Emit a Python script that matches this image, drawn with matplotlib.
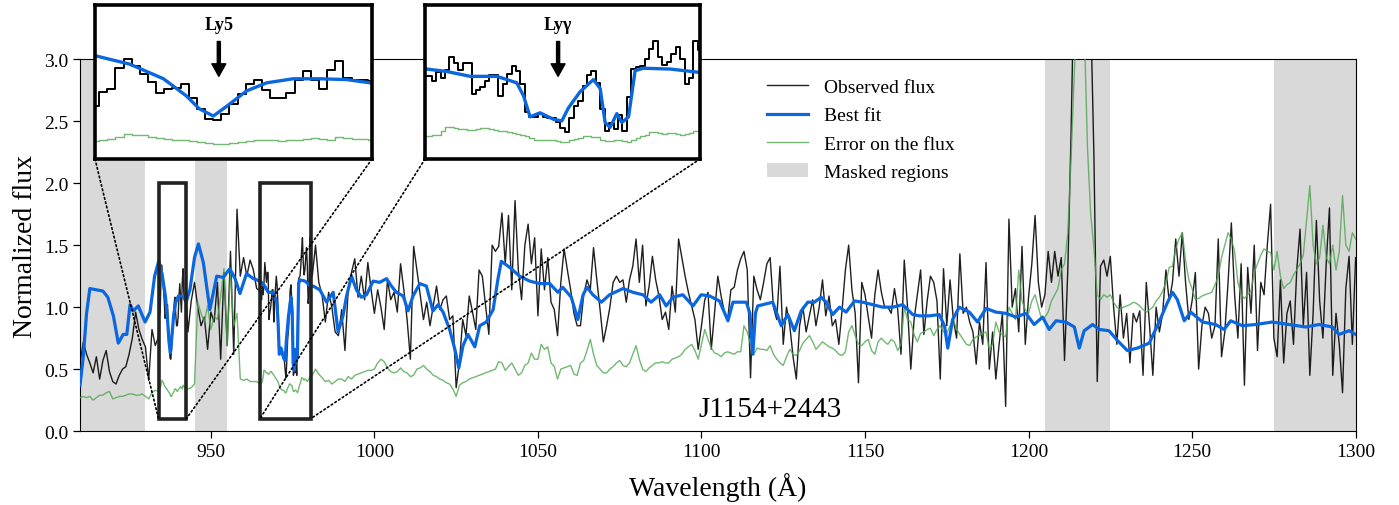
import numpy as np
import matplotlib
matplotlib.use("Agg")
import matplotlib.pyplot as plt
from matplotlib.patches import Rectangle, ConnectionPatch

plt.rcParams['font.family'] = ['Liberation Serif', 'DejaVu Serif']

# wavelength sampling (finer inside the two zoomed boxes)
wave = np.concatenate([
    np.arange(910, 934, 1.0),
    np.arange(934, 942.51, 0.25),
    np.arange(943, 965, 1.0),
    np.arange(965, 980.51, 0.25),
    np.arange(981, 1301, 1.0),
])

# observed flux
obs_910_933 = [0.55, 0.72, 0.62, 0.55, 0.47, 0.60, 0.42, 0.57, 0.65, 0.48,
               0.40, 0.38, 0.45, 0.50, 0.52, 0.62, 0.75, 0.96, 0.82, 0.74,
               0.68, 0.41, 0.82, 0.69]
obs_ly5 = [0.76, 0.93, 0.96, 1.22, 1.34, 1.25, 1.15, 1.05, 0.91, 0.96,
           0.98, 1.02, 0.85, 0.72, 0.59, 0.58, 0.66, 0.78, 0.90, 1.02,
           1.08, 0.95, 0.85, 0.85, 0.92, 1.08, 1.19, 1.08, 0.96, 1.20,
           1.31, 1.10, 1.08, 1.08, 1.06]
obs_943_964 = [0.80, 1.05, 1.20, 1.00, 0.85, 0.92, 0.66, 0.96, 0.88, 1.20,
               0.58, 1.28, 0.69, 1.45, 0.62, 1.79, 1.25, 1.40, 1.25, 1.38,
               1.30, 1.15]
obs_lyg = [1.13, 1.13, 1.06, 1.17, 1.10, 1.20, 1.36, 1.28, 1.20, 1.28,
           1.28, 0.90, 0.95, 0.99, 1.06, 1.14, 1.14, 0.88, 1.03, 1.15,
           1.25, 1.18, 1.02, 0.68, 0.62, 0.62, 0.66, 0.62, 0.61, 0.60,
           0.56, 0.48, 0.43, 0.60, 0.75, 0.82, 1.00, 1.14, 1.18, 1.04,
           0.72, 0.45, 0.55, 0.47, 0.64, 0.45, 0.86, 1.21, 1.24, 1.25,
           1.33, 1.46, 1.56, 1.36, 1.26, 1.30, 1.40, 1.48, 1.33, 1.03,
           1.10, 1.56, 1.45]
obs_981_1300 = [
    1.25, 1.50, 1.20, 1.10, 0.88, 1.12, 1.00, 0.80, 0.77, 0.98,
    0.65, 1.15, 1.28, 1.39, 1.08, 1.25, 1.06, 1.36, 1.14, 0.95,
    1.14, 1.00, 0.82, 1.22, 1.06, 1.12, 0.96, 1.35, 1.14, 0.90,
    0.58, 1.49, 1.30, 1.10, 0.90, 1.04, 0.85, 1.01, 1.17, 0.98,
    1.06, 1.09, 0.90, 0.93, 0.35, 0.55, 0.90, 0.77, 1.09, 0.96,
    0.82, 1.30, 1.25, 1.01, 0.78, 1.50, 1.45, 1.49, 1.76, 1.35,
    1.74, 1.14, 1.86, 1.30, 1.06, 1.50, 1.67, 1.35, 1.56, 0.93,
    1.47, 1.14, 1.40, 1.04, 0.98, 0.77, 1.20, 1.47, 1.30, 1.14,
    0.95, 0.85, 0.85, 1.10, 1.22, 1.14, 1.48, 1.22, 0.98, 0.72,
    0.85, 1.00, 1.20, 1.25, 1.20, 1.22, 1.04, 1.22, 1.33, 1.55,
    1.20, 1.50, 1.01, 1.17, 1.41, 1.22, 1.09, 0.90, 0.96, 0.82,
    1.17, 0.96, 1.55, 1.40, 1.25, 1.12, 1.01, 0.90, 0.66, 0.85,
    1.06, 1.12, 0.66, 0.96, 1.25, 1.09, 0.96, 0.90, 1.14, 1.16,
    1.30, 1.39, 1.45, 1.30, 0.43, 1.25, 1.14, 1.06, 1.20, 1.35,
    1.40, 1.00, 0.90, 1.33, 0.70, 1.00, 0.85, 0.60, 0.42, 0.85,
    1.00, 0.80, 0.93, 1.06, 0.85, 1.00, 1.22, 0.93, 1.09, 0.85,
    0.90, 0.70, 0.98, 1.30, 1.50, 1.14, 0.95, 0.39, 1.20, 1.10,
    0.92, 0.75, 1.10, 1.30, 1.12, 1.00, 1.00, 0.95, 1.15, 0.98,
    0.62, 1.38, 1.00, 0.50, 0.90, 1.10, 1.30, 0.78, 1.05, 1.25,
    1.20, 1.05, 0.42, 1.31, 0.85, 1.22, 0.90, 0.75, 1.43, 0.95,
    1.00, 0.88, 0.80, 0.54, 0.88, 0.70, 1.36, 0.50, 0.80, 0.42,
    0.70, 0.95, 0.20, 1.71, 1.00, 1.15, 0.80, 1.49, 0.70, 1.08,
    1.35, 1.74, 1.20, 1.00, 1.10, 1.45, 1.20, 1.45, 1.25, 1.40,
    0.57, 1.30, 2.40, 3.80, 4.20, 4.20, 4.00, 3.80, 3.40, 2.20,
    0.40, 1.33, 1.38, 1.25, 1.41, 1.00, 0.70, 1.10, 0.75, 0.95,
    0.55, 0.95, 0.88, 0.97, 0.45, 1.20, 0.85, 0.45, 1.00, 0.80,
    0.95, 1.30, 1.05, 1.20, 1.55, 1.25, 1.60, 1.20, 0.90, 1.05,
    1.28, 0.50, 0.85, 1.00, 0.95, 0.75, 0.85, 1.55, 0.60, 0.80,
    1.20, 1.68, 1.10, 0.75, 1.35, 0.37, 1.32, 0.95, 1.50, 0.65,
    1.20, 1.10, 1.50, 1.83, 0.75, 0.60, 1.22, 0.55, 0.95, 1.05,
    0.70, 1.30, 1.63, 0.85, 1.28, 0.45, 0.95, 1.70, 1.05, 0.75,
    1.35, 1.80, 0.45, 0.95, 0.70, 0.31, 1.15, 1.41, 0.70, 1.40,
]

# error on the flux
err_910_933 = [0.27, 0.28, 0.27, 0.28, 0.25, 0.27, 0.29, 0.29, 0.31, 0.32,
               0.26, 0.27, 0.28, 0.28, 0.29, 0.30, 0.30, 0.29, 0.29, 0.30,
               0.28, 0.26, 0.31, 0.33]
err_ly5 = [0.32, 0.33, 0.35, 0.37, 0.41, 0.40, 0.39, 0.37, 0.36, 0.35,
           0.34, 0.33, 0.32, 0.31, 0.30, 0.28, 0.28, 0.30, 0.31, 0.32,
           0.34, 0.34, 0.33, 0.32, 0.33, 0.34, 0.35, 0.36, 0.35, 0.34,
           0.37, 0.36, 0.35, 0.35, 0.34]
err_943_964 = [0.34, 0.35, 0.38, 1.04, 0.95, 0.88, 1.01, 0.82, 0.93, 0.90,
               1.09, 1.31, 0.69, 1.28, 0.85, 0.95, 0.42, 0.41, 0.42, 0.40,
               0.40, 0.40]
err_lyg = [0.38, 0.38, 0.39, 0.40, 0.44, 0.49, 0.49, 0.48, 0.47, 0.47,
           0.46, 0.46, 0.47, 0.48, 0.48, 0.47, 0.46, 0.45, 0.44, 0.43,
           0.42, 0.41, 0.40, 0.38, 0.36, 0.34, 0.34, 0.33, 0.33, 0.33,
           0.32, 0.31, 0.31, 0.33, 0.35, 0.36, 0.38, 0.38, 0.37, 0.37,
           0.34, 0.32, 0.32, 0.33, 0.33, 0.32, 0.31, 0.33, 0.36, 0.38,
           0.40, 0.43, 0.43, 0.42, 0.41, 0.42, 0.42, 0.41, 0.40, 0.41,
           0.42, 0.44, 0.45]
err_981_1300 = [
    0.45, 0.50, 0.46, 0.43, 0.40, 0.41, 0.38, 0.40, 0.42, 0.42,
    0.40, 0.44, 0.42, 0.45, 0.46, 0.47, 0.48, 0.49, 0.49, 0.50,
    0.55, 0.58, 0.56, 0.51, 0.48, 0.47, 0.48, 0.51, 0.48, 0.47,
    0.44, 0.45, 0.50, 0.51, 0.53, 0.50, 0.48, 0.45, 0.44, 0.42,
    0.41, 0.39, 0.38, 0.34, 0.28, 0.37, 0.39, 0.40, 0.42, 0.43,
    0.44, 0.45, 0.46, 0.47, 0.48, 0.49, 0.50, 0.56, 0.55, 0.49,
    0.52, 0.55, 0.50, 0.45, 0.47, 0.53, 0.55, 0.63, 0.58, 0.58,
    0.70, 0.66, 0.68, 0.55, 0.52, 0.42, 0.50, 0.51, 0.52, 0.53,
    0.46, 0.45, 0.55, 0.57, 0.65, 0.74, 0.62, 0.53, 0.50, 0.47,
    0.47, 0.50, 0.52, 0.55, 0.57, 0.53, 0.52, 0.55, 0.62, 0.69,
    0.58, 0.50, 0.48, 0.51, 0.53, 0.55, 0.55, 0.56, 0.55, 0.55,
    0.58, 0.59, 0.60, 0.62, 0.66, 0.68, 0.70, 0.65, 0.58, 0.70,
    0.82, 0.74, 0.67, 0.63, 0.62, 0.60, 0.63, 0.64, 0.63, 0.62,
    0.64, 0.64, 0.85, 0.80, 0.70, 0.62, 0.67, 0.66, 0.66, 0.65,
    0.69, 0.62, 0.58, 0.55, 0.53, 0.60, 0.66, 0.62, 0.61, 0.65,
    0.71, 0.74, 0.77, 0.72, 0.66, 0.69, 0.72, 0.70, 0.68, 0.67,
    0.65, 0.62, 0.61, 0.64, 0.80, 0.85, 0.77, 0.70, 0.69, 0.72,
    0.74, 0.65, 0.62, 0.72, 0.75, 0.72, 0.70, 0.74, 0.72, 0.65,
    0.70, 1.00, 0.90, 0.88, 0.78, 0.72, 0.79, 0.80, 0.82, 0.83,
    0.77, 0.82, 0.85, 0.80, 0.79, 0.85, 0.90, 0.82, 0.78, 0.74,
    0.70, 0.69, 0.74, 0.76, 0.77, 0.79, 0.80, 0.66, 0.70, 0.88,
    0.80, 0.78, 0.76, 1.00, 0.95, 0.90, 1.30, 1.05, 0.98, 0.95,
    1.05, 1.10, 1.00, 0.90, 0.92, 0.96, 1.05, 1.10, 1.15, 1.30,
    1.35, 1.60, 2.20, 2.90, 3.50, 3.70, 3.30, 2.30, 1.75, 1.47,
    1.10, 1.06, 1.10, 1.08, 1.10, 1.04, 1.00, 0.98, 1.00, 1.01,
    1.02, 1.04, 1.03, 1.01, 0.98, 0.96, 0.98, 1.00, 1.05, 1.08,
    1.13, 1.20, 1.32, 1.33, 1.47, 1.55, 1.60, 1.38, 1.22, 1.15,
    1.06, 1.07, 1.09, 1.10, 1.11, 1.12, 1.18, 1.25, 1.40, 1.50,
    1.60, 1.55, 1.45, 1.20, 1.10, 1.07, 1.10, 1.13, 1.28, 1.35,
    1.42, 1.47, 1.45, 1.44, 1.30, 1.45, 1.25, 1.15, 1.18, 1.20,
    1.26, 1.30, 1.35, 1.42, 1.70, 1.98, 1.50, 1.35, 1.40, 1.66,
    1.40, 1.35, 1.50, 1.30, 1.45, 1.90, 1.50, 1.45, 1.60, 1.55,
]

observed = np.array(obs_910_933 + obs_ly5 + obs_943_964 + obs_lyg + obs_981_1300)
error = np.array(err_910_933 + err_ly5 + err_943_964 + err_lyg + err_981_1300)

# best fit model
fit_wave = [910, 911, 912, 913, 915, 917, 918.5, 920.2, 921.7, 923.2, 924.3,
            925.3, 926.3, 927.8, 929.9, 931.4, 932.8, 934.05, 935.07, 936.1,
            936.8, 937.2, 937.63, 938.04, 938.65, 939.27, 940.08, 940.9,
            941.72, 942.44, 943.6, 945, 946.2, 947.7, 949.7, 951.8, 953.8,
            955.8, 957.4, 958.9, 960.9, 963, 965.09, 966.22, 967.54, 969.04,
            970.17, 970.55, 970.92, 971.48, 972.24, 972.71, 973.08, 973.74,
            974.49, 974.87, 975.15, 975.43, 975.81, 976.09, 976.47, 976.84,
            977.31, 978.82, 980.41, 981.3, 983.3, 985.4, 987.4, 988.9, 990.4,
            991.5, 993, 994.5, 996, 997.6, 999.6, 1001.6, 1003.7, 1005.2,
            1006.7, 1008.8, 1010.3, 1011.8, 1013.9, 1015.9, 1017.9, 1019.5,
            1021, 1023, 1024.6, 1025.8, 1027.1, 1028.6, 1030.7, 1032.2,
            1034.2, 1036.3, 1037.8, 1038.8, 1041.4, 1044.4, 1047.5, 1050.5,
            1053.6, 1056.1, 1057.6, 1060.2, 1062.2, 1063.8, 1065, 1066.8,
            1069.4, 1071.9, 1076, 1079, 1082.1, 1084.6, 1087.2, 1089.2,
            1091.3, 1094.3, 1097.4, 1099.9, 1102.5, 1105.5, 1108.1, 1109.6,
            1113.7, 1114.8, 1115.7, 1116.5, 1117.2, 1121.8, 1124.4, 1126.4,
            1128.4, 1130.5, 1132.5, 1134.5, 1136.6, 1138.1, 1140.1, 1142.2,
            1144.2, 1146.8, 1149.3, 1152.4, 1155.4, 1158.5, 1161.5, 1164.6,
            1166.6, 1169.7, 1172.7, 1174.3, 1175.3, 1176.8, 1178.8, 1181.9,
            1184.4, 1187, 1190, 1193.1, 1196.1, 1199.2, 1201.7, 1204.3,
            1206.3, 1208.4, 1211.4, 1214, 1215.5, 1217, 1219.6, 1221.6,
            1224.6, 1227.2, 1230.2, 1233.3, 1236.9, 1239.9, 1242.5, 1244,
            1245.5, 1247.6, 1249.6, 1253.2, 1257.2, 1259.8, 1261.8, 1265.4,
            1269.4, 1274.5, 1279.6, 1284.7, 1288.8, 1292.9, 1294.9, 1298,
            1300]
fit_flux = [0.37, 0.60, 0.95, 1.15, 1.14, 1.13, 1.08, 0.93, 0.71, 0.78, 0.78,
            1.02, 0.97, 1.01, 0.88, 0.96, 1.25, 1.37, 1.27, 1.09,
            0.88, 0.72, 0.63, 0.75, 0.94, 1.04, 1.09, 1.09,
            1.08, 1.04, 1.14, 1.40, 1.51, 1.36, 0.98, 1.25, 1.24,
            1.31, 1.23, 1.11, 1.27, 1.23, 1.21, 1.18, 1.12, 1.12,
            1.04, 0.88, 0.62, 0.67, 0.59, 0.57, 0.73, 0.93,
            1.08, 0.97, 0.55, 0.49, 0.66, 0.55, 0.62, 1.19,
            1.22, 1.21, 1.17, 1.17, 1.14, 1.04, 1.12, 0.80, 0.93,
            1.09, 1.25, 1.14, 1.08, 1.10, 1.21, 1.20, 1.23, 1.17,
            1.12, 1.09, 0.97, 1.09, 1.19, 1.17, 0.97, 1.02,
            0.96, 0.82, 0.66, 0.51, 0.69, 0.78, 0.68, 0.85,
            0.88, 0.98, 1.23, 1.37, 1.32, 1.25, 1.21, 1.19,
            1.19, 1.12, 1.16, 1.08, 0.90, 1.10, 1.16, 1.10,
            1.04, 1.10, 1.15, 1.12, 1.10, 1.04, 1.10, 1.01,
            1.08, 1.10, 1.01, 1.10, 1.09, 1.05, 0.89, 1.04,
            1.04, 0.95, 0.62, 0.95, 1.01, 1.04, 0.85, 0.94,
            0.81, 0.97, 1.04, 1.04, 1.08, 1.04, 0.94, 1.00,
            0.96, 1.05, 1.04, 1.02, 1.00, 1.00, 1.02, 0.94,
            0.93, 0.93, 0.94, 0.85, 0.67, 0.90, 1.00, 0.96,
            0.88, 0.99, 0.96, 0.95, 0.92, 0.95, 0.86, 0.92,
            0.82, 0.89, 0.88, 0.84, 0.67, 0.81, 0.86, 0.82,
            0.81, 0.73, 0.65, 0.67, 0.71, 0.88, 1.04, 1.12,
            1.06, 0.89, 0.96, 0.88, 0.86, 0.82, 0.89, 0.85,
            0.86, 0.88, 0.86, 0.84, 0.86, 0.84, 0.78, 0.81,
            0.78]

masked = [(910, 930), (945, 955), (1205, 1225), (1275, 1300)]
zoom_boxes = [(934, 942.5), (965, 980.5)]
lines_id = [("Ly5", 937.8), ("Lyγ", 972.5)]

black = "k"
blue = "#0b67e0"
green = "#4ea64e"

fig = plt.figure(figsize=(13.99, 5.06), dpi=100)
ax = fig.add_axes([0.0572, 0.146, 0.9118, 0.735])

for i, (a, b) in enumerate(masked):
    ax.axvspan(a, b, color="#d9d9d9", lw=0, zorder=0,
               label="Masked regions" if i == 0 else None)

ax.plot(wave, observed, color=black, lw=1.0, alpha=0.88, label="Observed flux", zorder=2)
ax.plot(fit_wave, fit_flux, color=blue, lw=2.3, label="Best fit", zorder=4)
ax.plot(wave, error, color=green, lw=1.0, alpha=0.8, label="Error on the flux", zorder=3)

ax.set_xlim(910, 1300)
ax.set_ylim(0, 3.0)
ax.set_xticks([950, 1000, 1050, 1100, 1150, 1200, 1250, 1300])
ax.set_yticks([0.0, 0.5, 1.0, 1.5, 2.0, 2.5, 3.0])
ax.set_yticklabels(["0.0", "0.5", "1.0", "1.5", "2.0", "2.5", "3.0"])
ax.tick_params(direction="out", labelsize=14, length=5, width=0.9)
ax.set_xlabel("Wavelength (Å)", fontsize=20, labelpad=9)
ax.set_ylabel("Normalized flux", fontsize=20, labelpad=4)

ax.text(1121, 0.18, "J1154+2443", fontsize=21, ha="center", va="center")

h, l = ax.get_legend_handles_labels()
order = [l.index(n) for n in ["Observed flux", "Best fit", "Error on the flux", "Masked regions"]]
ax.legend([h[i] for i in order], [l[i] for i in order], loc="upper left",
          bbox_to_anchor=(0.525, 0.995), frameon=False, fontsize=14,
          labelspacing=0.55, handlelength=2.1, handletextpad=0.8)

inset_pos = [[0.0679, 0.6838, 0.198, 0.3043], [0.3038, 0.6838, 0.1966, 0.3043]]
for (x0, x1), (name, lam), pos in zip(zoom_boxes, lines_id, inset_pos):
    ax.add_patch(Rectangle((x0, 0.1), x1 - x0, 1.9, fill=False,
                           ec="#222222", lw=2.6, zorder=6))
    ins = fig.add_axes(pos)
    sel = (wave >= x0 - 0.3) & (wave <= x1 + 0.3)
    ins.plot(wave[sel], observed[sel], color=black, lw=1.4, drawstyle="steps-mid")
    ins.plot(fit_wave, fit_flux, color=blue, lw=2.4)
    ins.plot(wave[sel], error[sel], color=green, lw=1.0, alpha=0.8, drawstyle="steps-mid")
    ins.set_xlim(x0, x1)
    ins.set_ylim(0.1, 2.0)
    ins.set_xticks([])
    ins.set_yticks([])
    for s in ins.spines.values():
        s.set_linewidth(2.6)
    ins.annotate("", xy=(lam, 1.12), xytext=(lam, 1.55),
                 arrowprops=dict(facecolor="black", edgecolor="black",
                                 width=2.2, headwidth=10, headlength=9))
    ins.text(lam, 1.76, name, fontsize=13, fontweight="bold",
             ha="center", va="center")
    for corner, xd in [((0, 0), x0), ((1, 0), x1)]:
        con = ConnectionPatch(xyA=corner, coordsA=ins.transAxes,
                              xyB=(xd, 0.1), coordsB=ax.transData,
                              ls=":", lw=1.2, color="k", zorder=1)
        fig.add_artist(con)

fig.savefig("out.png", dpi=100)
